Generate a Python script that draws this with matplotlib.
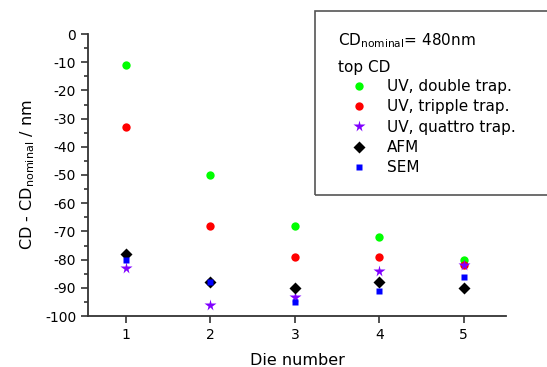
import numpy as np
import matplotlib.pyplot as plt
from matplotlib.patches import Rectangle
from matplotlib.ticker import MultipleLocator

plt.rcParams['font.family'] = ['DejaVu Sans']
plt.rcParams['font.size'] = 11
plt.rcParams['axes.unicode_minus'] = False
plt.rcParams['mathtext.default'] = 'regular'

# data
die = [1, 2, 3, 4, 5]
uv_double = [-11, -50, -68, -72, -80]
uv_tripple = [-33, -68, -79, -79, -82]
uv_quattro = [-83, -96, -93.3, -84, -82]
afm = [-78, -88, -90, -88, -90]
sem = [-80, -88, -95, -91, -86]

W, H = 547, 367
fig = plt.figure(figsize=(W / 100, H / 100), dpi=100)
ax = fig.add_axes([88 / W, 1 - 316 / H, 418 / W, 282 / H])

ax.plot(die, uv_double, 'o', color='#00ff00', ms=6, mec='none', label='UV, double trap.')
ax.plot(die, uv_tripple, 'o', color='#ff0000', ms=6, mec='none', label='UV, tripple trap.')
ax.plot(die, uv_quattro, '*', color='#8000ff', ms=8.5, mec='none', label='UV, quattro trap.')
ax.plot(die, afm, 'D', color='black', ms=6.5, mec='none', label='AFM')
ax.plot(die, sem, 's', color='#0000ff', ms=5, mec='none', label='SEM')

ax.set_xlim(0.55, 5.5)
ax.set_ylim(-100, 0)
ax.set_xticks(die)
ax.yaxis.set_major_locator(MultipleLocator(10))
ax.yaxis.set_minor_locator(MultipleLocator(5))
for s in ['top', 'right']:
    ax.spines[s].set_visible(False)
for s in ['left', 'bottom']:
    ax.spines[s].set_linewidth(1.3)
    ax.spines[s].set_color('#333333')
ax.tick_params(which='major', length=5, width=1.2, color='#333333', labelsize=10)
ax.tick_params(which='minor', length=3, width=1.2, color='#333333')

ax.set_xlabel('Die number', fontsize=11.5, labelpad=8)
ax.set_ylabel('CD - CD$_{nominal}$ / nm', fontsize=11.5, labelpad=6)

# legend box runs off the right edge
fig.patches.append(Rectangle((315 / W, 1 - 195 / H), 0.5, 184 / H,
                             transform=fig.transFigure, fill=False,
                             ec='#555555', lw=1.2))
fig.text(338 / W, 1 - 45 / H, 'CD$_{nominal}$= 480nm', fontsize=11, va='baseline')
fig.text(338 / W, 1 - 72 / H, 'top CD', fontsize=11, va='baseline')

leg = ax.legend(loc='upper left', bbox_to_anchor=(351 / W, 1 - 79 / H),
                bbox_transform=fig.transFigure, frameon=False,
                handletextpad=1.33, labelspacing=0.35, borderpad=0,
                borderaxespad=0, handlelength=1.0, fontsize=11)

fig.savefig('out.png', dpi=100)
